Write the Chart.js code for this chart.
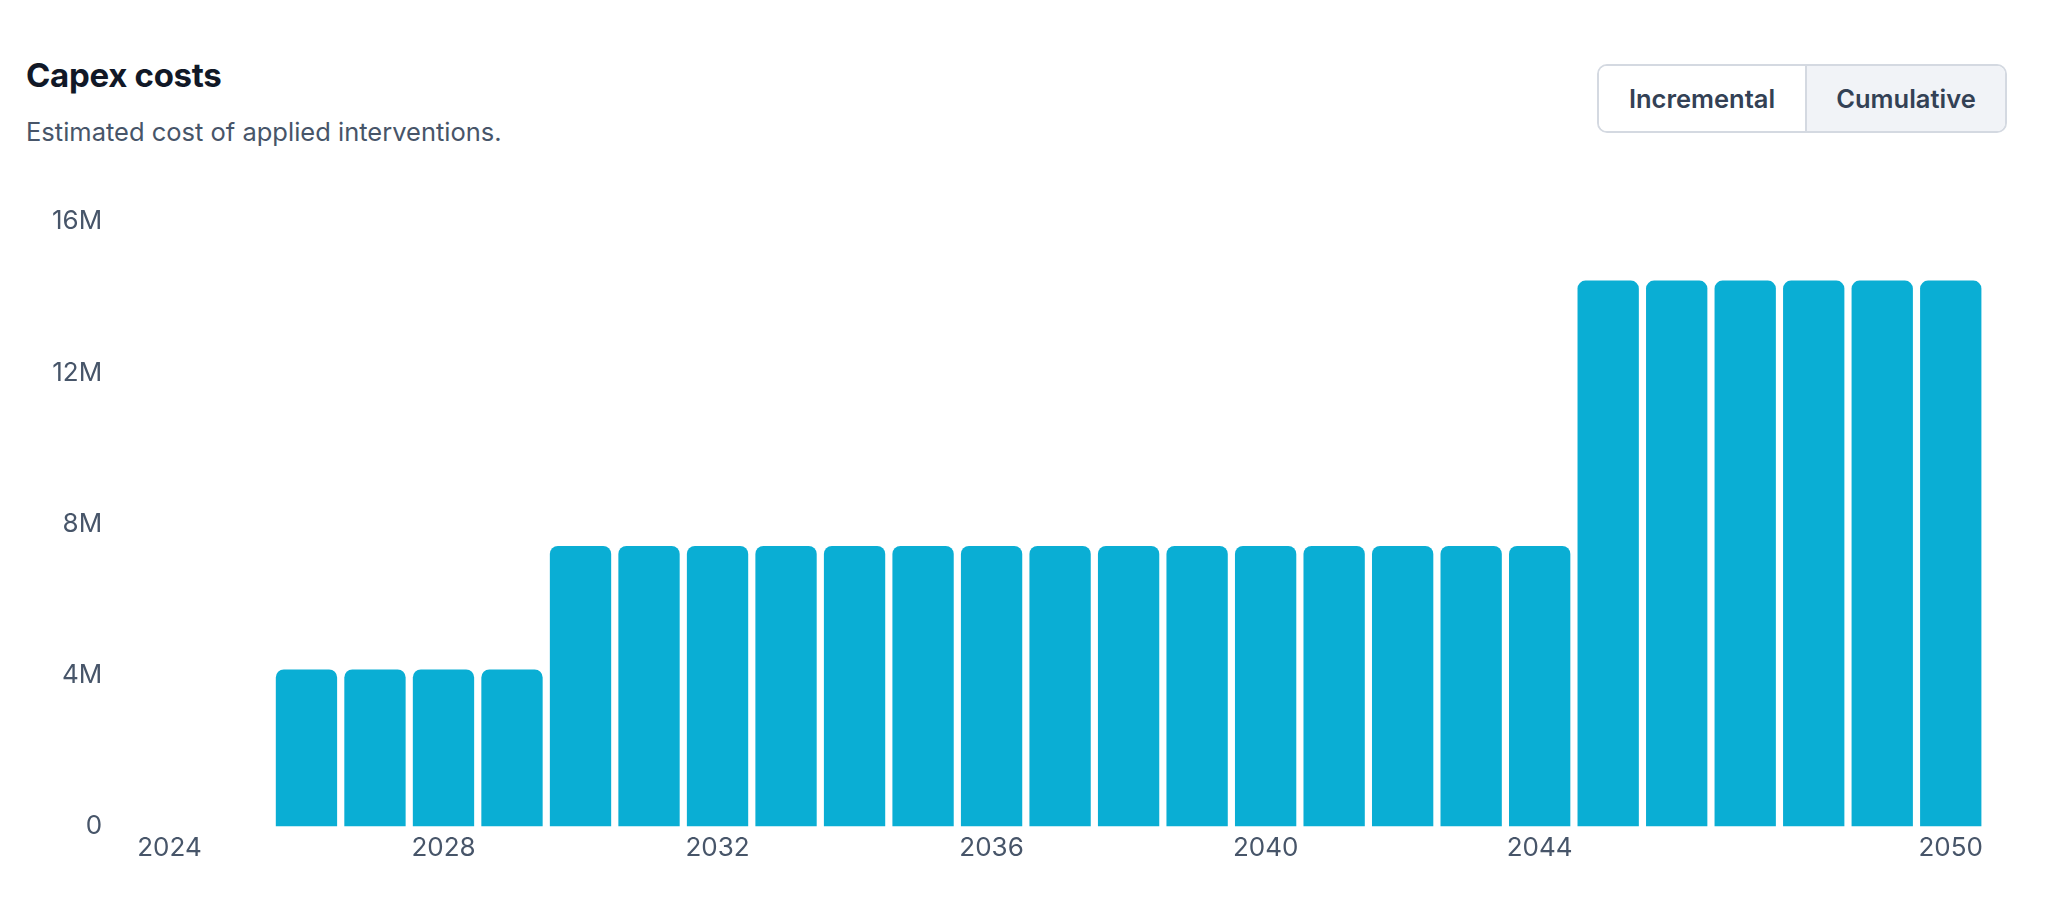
<!DOCTYPE html>
<html>
<head>
<meta charset="utf-8">
<title>Capex costs</title>
<script src="https://cdn.jsdelivr.net/npm/chart.js@4.4.1/dist/chart.umd.min.js"></script>
<style>
  html, body { margin: 0; padding: 0; background: #fff; }
  body { width: 2048px; height: 909px; position: relative; overflow: hidden; font-family: Inter, "Noto Sans", sans-serif; }
  #titulo { position: absolute; left: 26px; top: 55px; margin: 0; font-size: 33px; font-weight: 700; color: #111827; letter-spacing: -0.3px; }
  #subtitulo { position: absolute; left: 26px; top: 116px; margin: 0; font-size: 25.5px; font-weight: 400; color: #475569; }
  #toggle { position: absolute; left: 1597px; top: 64px; width: 410px; height: 69px; box-sizing: border-box;
            border: 2px solid #d4d9e1; border-radius: 10px; display: flex; overflow: hidden; }
  #toggle div { display: flex; align-items: center; justify-content: center; font-size: 25.5px; font-weight: 600; color: #334155; }
  #btn-incremental { width: 206px; background: #fff; border-right: 2px solid #d4d9e1; }
  #btn-cumulative { flex: 1; background: #f1f3f7; }
  #chart-wrapper { position: absolute; left: 27px; top: 181px; width: 1958px; height: 686px; }
</style>
</head>
<body>
<h2 id="titulo">Capex costs</h2>
<p id="subtitulo">Estimated cost of applied interventions.</p>
<div id="toggle">
  <div id="btn-incremental">Incremental</div>
  <div id="btn-cumulative">Cumulative</div>
</div>
<div id="chart-wrapper"><canvas id="grafico-capex"></canvas></div>

<script>
/* *****
datos del grafico (acumulado)
***** */

const years = ['2024', '2025', '2026', '2027', '2028', '2029', '2030', '2031', '2032',
  '2033', '2034', '2035', '2036', '2037', '2038', '2039', '2040', '2041',
  '2042', '2043', '2044', '2045', '2046', '2047', '2048', '2049', '2050'];

const capexCumulative = [0, 0, 4150000, 4150000, 4150000, 4150000,
  7420000, 7420000, 7420000, 7420000, 7420000, 7420000, 7420000, 7420000,
  7420000, 7420000, 7420000, 7420000, 7420000, 7420000, 7420000,
  14440000, 14440000, 14440000, 14440000, 14440000, 14440000];

// años que llevan etiqueta en el eje X
const yearTicks = ['2024', '2028', '2032', '2036', '2040', '2044', '2050'];

const yTicks = [0, 4000000, 8000000, 12000000, 16000000];

/* *****
grafico
***** */

const tickFont = { family: 'Inter', size: 26 };
const tickColor = '#475569';

const newCapexChart = (canvas) => {
    const config = {
        type: 'bar',
        data: {
            labels: years,
            datasets: [{
                label: 'Capex costs',
                data: capexCumulative,
                backgroundColor: '#0aaed4',
                borderRadius: { topLeft: 8, topRight: 8 },
                borderSkipped: 'bottom',
                barPercentage: 0.895,
                categoryPercentage: 1
            }]
        },
        options: {
            responsive: true,
            maintainAspectRatio: false,
            animation: false,
            layout: { padding: 0 },
            plugins: {
                legend: { display: false },
                tooltip: { enabled: false }
            },
            scales: {
                x: {
                    grid: { display: false },
                    border: { display: false },
                    ticks: {
                        autoSkip: false,
                        maxRotation: 0,
                        padding: -2,
                        font: tickFont,
                        color: tickColor,
                        callback: function (value) {
                            const year = this.getLabelForValue(value);
                            return yearTicks.includes(year) ? year : null;
                        }
                    }
                },
                y: {
                    min: yTicks[0],
                    max: yTicks[yTicks.length - 1],
                    grid: { display: false },
                    border: { display: false },
                    afterBuildTicks: (axis) => {
                        axis.ticks = yTicks.map((v) => ({ value: v }));
                    },
                    ticks: {
                        padding: 25,
                        font: tickFont,
                        color: tickColor,
                        callback: (value) => value === 0 ? '0' : `${value / 1000000}M`
                    }
                }
            }
        }
    };
    return new Chart(document.getElementById(canvas), config);
};

newCapexChart('grafico-capex');
</script>
</body>
</html>
